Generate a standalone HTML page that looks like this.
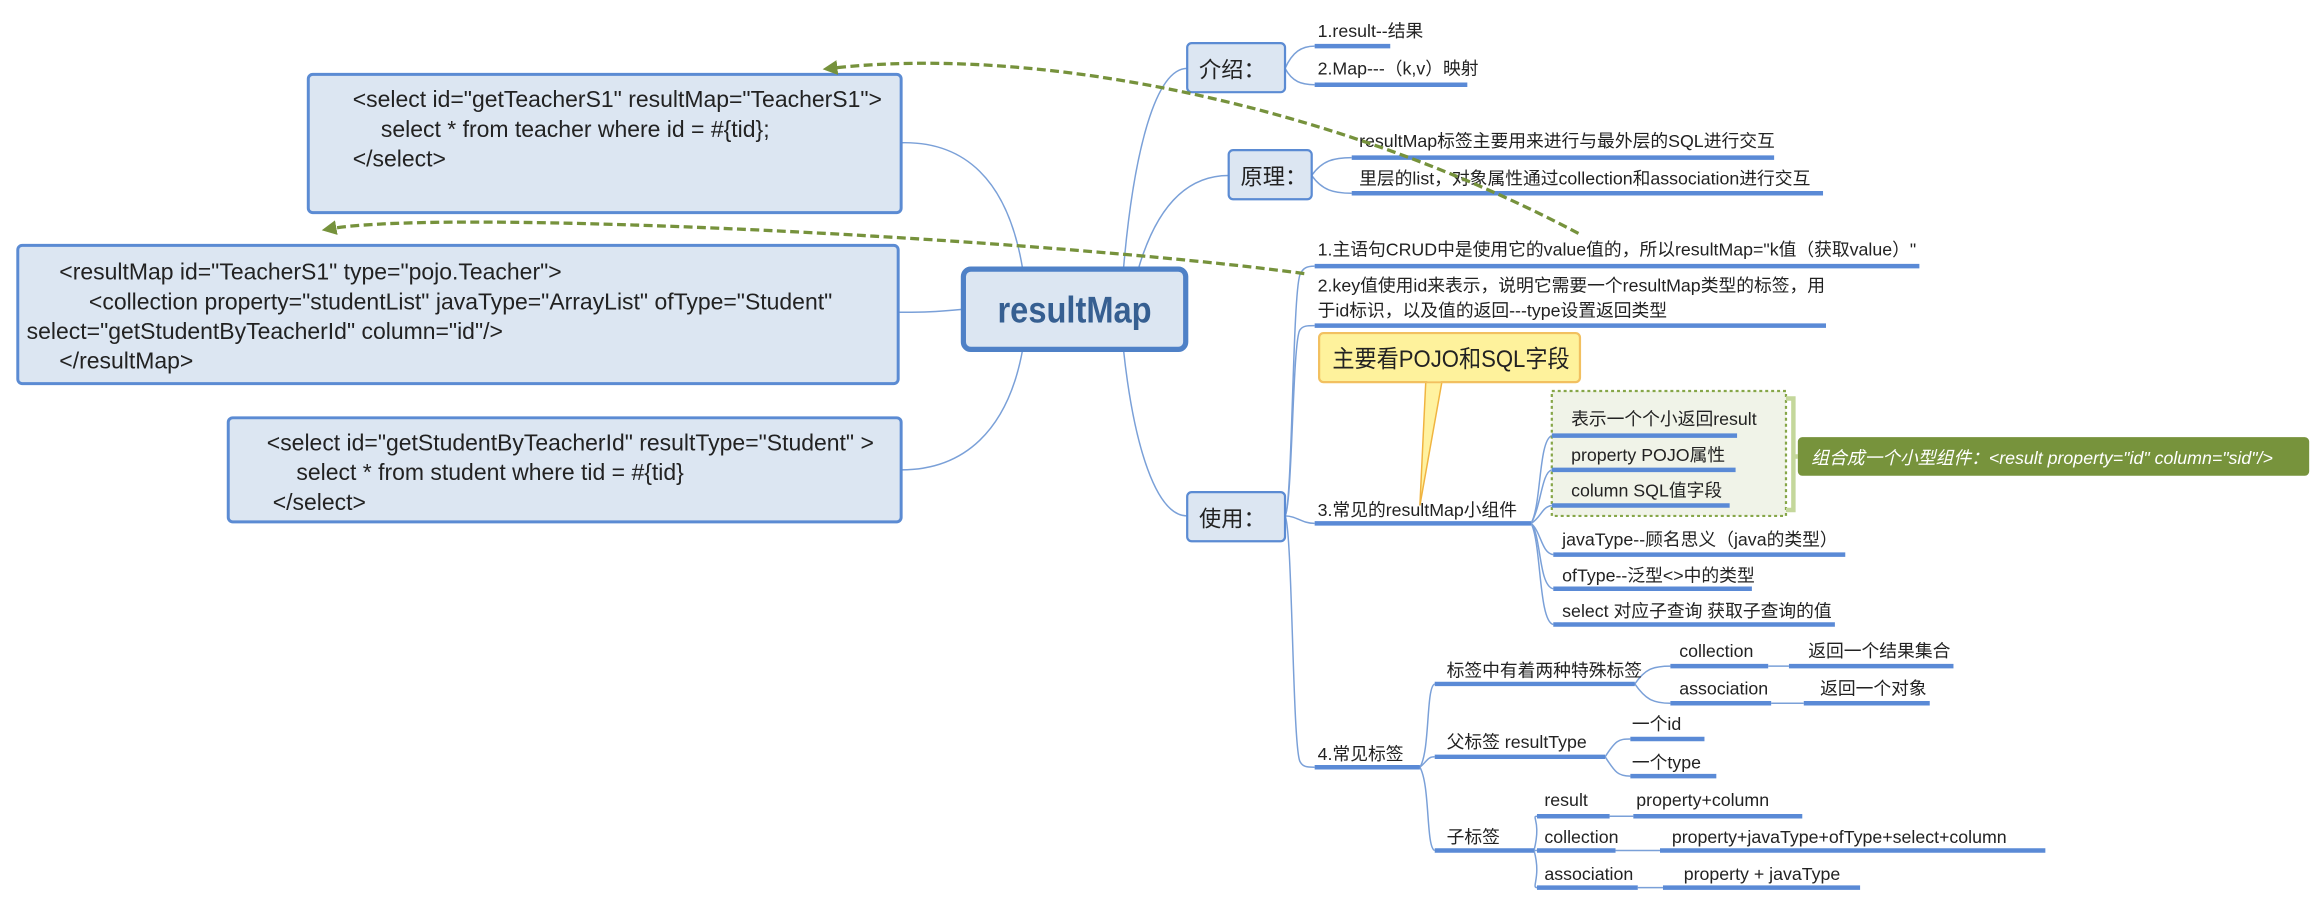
<!DOCTYPE html>
<html><head><meta charset="utf-8"><style>
html,body{margin:0;padding:0;background:#fff;width:2324px;height:904px;overflow:hidden}
svg text{font-family:"Liberation Sans","Noto Sans CJK SC",sans-serif;fill:#222}
</style></head><body>
<svg width="2324" height="904" viewBox="0 0 1568 608" preserveAspectRatio="none" xmlns="http://www.w3.org/2000/svg">
<defs>
<marker id="ah" markerWidth="10" markerHeight="10" refX="5" refY="5" orient="auto" markerUnits="userSpaceOnUse">
<path d="M0,0 L10,5 L0,10 z" fill="#76923c"/></marker>
</defs>
<g fill="none" stroke="#7aa0d8" stroke-width="1">
<path d="M690,181 C680,120 650,95 608,96"/>
<path d="M650,208 C630,210 620,210 606,210"/>
<path d="M690,235 C680,290 650,316 608,316"/>
<path d="M758,181 C765,100 780,46 801,46"/>
<path d="M768,181 C780,140 800,118 829,118"/>
<path d="M758,235 C765,300 780,347 801,347"/>
<path d="M867,46 C872,35 878,31 887,31"/><path d="M867,46 C872,55 878,57 887,57"/>
<path d="M885,118 C892,108 900,106 912,106"/><path d="M885,118 C892,128 900,130 912,130"/>
<path d="M867,347 C872,340 872,200 877,185 C879,180 882,179 887,179"/>
<path d="M867,347 C872,340 872,230 877,222 C879,219 882,219 887,219"/>
<path d="M867,347 C875,347 878,352 887,352"/>
<path d="M867,347 C872,355 872,500 877,512 C879,516 882,516 887,516"/>
<path d="M1033,352 C1040,340 1038,296 1047,293"/>
<path d="M1033,352 C1040,340 1040,318 1047,316"/>
<path d="M1033,352 C1040,348 1040,341 1047,340"/>
<path d="M1033,352 C1040,358 1040,372 1048,373"/>
<path d="M1033,352 C1040,360 1038,394 1048,396"/>
<path d="M1033,352 C1040,365 1038,418 1048,420"/>
<path d="M958,516 C965,505 962,462 968,460"/>
<path d="M958,516 C963,512 963,509 968,509"/>
<path d="M958,516 C965,528 962,570 968,572"/>
<path d="M1103,460 C1110,450 1115,448 1127,448"/><path d="M1103,460 C1110,470 1115,473 1127,473"/>
<path d="M1083,509 C1090,498 1092,497 1100,497"/><path d="M1083,509 C1090,520 1092,522 1100,522"/>
<path d="M1035,572 C1040,552 1033,549 1037,549"/><path d="M1035,572 L1037,572"/><path d="M1035,572 C1040,590 1033,597 1037,597"/>
<path d="M1086,549 L1102,549"/><path d="M1090,572 L1120,572"/><path d="M1105,597 L1122,597"/>
<path d="M1193,448 L1207,448"/><path d="M1195,473 L1217,473"/>
</g>
<g stroke="#5b8bd3" stroke-width="2" fill="#dce6f2">
<rect x="208" y="50" width="400" height="93" rx="3"/>
<rect x="12" y="165" width="594" height="93" rx="3"/>
<rect x="154" y="281" width="454" height="70" rx="3"/>
</g>
<g font-size="15.5">
<text x="238" y="72">&lt;select id="getTeacherS1" resultMap="TeacherS1"&gt;</text>
<text x="257" y="92">select * from teacher where id = #{tid};</text>
<text x="238" y="112">&lt;/select&gt;</text>
<text x="40" y="188">&lt;resultMap id="TeacherS1" type="pojo.Teacher"&gt;</text>
<text x="60" y="208">&lt;collection property="studentList" javaType="ArrayList" ofType="Student"</text>
<text x="18" y="228">select="getStudentByTeacherId" column="id"/&gt;</text>
<text x="40" y="248">&lt;/resultMap&gt;</text>
<text x="180" y="303">&lt;select id="getStudentByTeacherId" resultType="Student" &gt;</text>
<text x="200" y="323">select * from student where tid = #{tid}</text>
<text x="184" y="343">&lt;/select&gt;</text>
</g>
<rect x="650" y="181" width="150" height="54" rx="5" fill="#dce6f2" stroke="#4f81c7" stroke-width="3.5"/>
<text x="725" y="217" font-size="25" font-weight="bold" text-anchor="middle" textLength="104" lengthAdjust="spacingAndGlyphs" style="fill:#365f91">resultMap</text>
<g fill="#dce6f2" stroke="#5b8bd3" stroke-width="1.5">
<rect x="801" y="29" width="66" height="33" rx="3"/>
<rect x="829" y="101" width="56" height="33" rx="3"/>
<rect x="801" y="331" width="66" height="33" rx="3"/>
</g>
<g font-size="15"><text x="809" y="52">介绍：</text><text x="837" y="124">原理：</text><text x="809" y="354">使用：</text></g>
<rect x="1047" y="263" width="158" height="84" fill="#f0f3e8" stroke="#86a648" stroke-width="1.5" stroke-dasharray="2,2"/>
<path d="M1205,268 L1210,268 L1210,343 L1205,343 M1210,307 L1213,307" fill="none" stroke="#c4d79b" stroke-width="3"/>
<rect x="1213" y="294" width="345" height="26" rx="3" fill="#77933c"/>
<text x="1222" y="312" font-size="12" font-style="italic" style="fill:#fff">组合成一个小型组件：&lt;result property="id" column="sid"/&gt;</text>
<path d="M962,256 L958,340 L973,256 z" fill="#fff2a0" stroke="#f0b440" stroke-width="1"/>
<rect x="890" y="224" width="176" height="33" rx="3" fill="#fef29c" stroke="#f2c060" stroke-width="1.5"/>
<path d="M963,255 L972,255" stroke="#fef29c" stroke-width="3"/>
<text x="899" y="247" font-size="16" textLength="160" lengthAdjust="spacingAndGlyphs">主要看POJO和SQL字段</text>
<g stroke="#5a8ad6" stroke-width="3">
<path d="M887,31H938M887,57H990M912,106H1197M912,130H1230M887,179H1295M887,219H1232M887,352H1033"/>
<path d="M1047,293H1172M1047,316H1171M1047,340H1167M1048,373H1245M1048,396H1182M1048,420H1238"/>
<path d="M887,516H958M968,460H1103M1127,448H1193M1207,448H1318M1127,473H1195M1217,473H1302"/>
<path d="M968,509H1083M1100,497H1150M1100,522H1158M968,572H1035"/>
<path d="M1037,549H1086M1102,549H1216M1037,572H1090M1120,572H1380M1037,597H1105M1122,597H1255"/>
</g>
<g font-size="12">
<text x="889" y="25">1.result--结果</text>
<text x="889" y="50">2.Map---（k,v）映射</text>
<text x="917" y="99">resultMap标签主要用来进行与最外层的SQL进行交互</text>
<text x="917" y="124">里层的list，对象属性通过collection和association进行交互</text>
<text x="889" y="172">1.主语句CRUD中是使用它的value值的，所以resultMap="k值（获取value）"</text>
<text x="889" y="196">2.key值使用id来表示，说明它需要一个resultMap类型的标签，用</text>
<text x="889" y="213">于id标识，以及值的返回---type设置返回类型</text>
<text x="889" y="347">3.常见的resultMap小组件</text>
<text x="1060" y="286">表示一个个小返回result</text>
<text x="1060" y="310">property  POJO属性</text>
<text x="1060" y="334">column SQL值字段</text>
<text x="1054" y="367">javaType--顾名思义（java的类型）</text>
<text x="1054" y="391">ofType--泛型&lt;&gt;中的类型</text>
<text x="1054" y="415">select 对应子查询 获取子查询的值</text>
<text x="889" y="511">4.常见标签</text>
<text x="976" y="455">标签中有着两种特殊标签</text>
<text x="1133" y="442">collection</text>
<text x="1220" y="442">返回一个结果集合</text>
<text x="1133" y="467">association</text>
<text x="1228" y="467">返回一个对象</text>
<text x="976" y="503">父标签 resultType</text>
<text x="1101" y="491">一个id</text>
<text x="1101" y="517">一个type</text>
<text x="976" y="567">子标签</text>
<text x="1042" y="542">result</text>
<text x="1104" y="542">property+column</text>
<text x="1042" y="567">collection</text>
<text x="1128" y="567">property+javaType+ofType+select+column</text>
<text x="1042" y="592">association</text>
<text x="1136" y="592">property + javaType</text>
</g>
<g fill="none" stroke="#76923c" stroke-width="2.2" stroke-dasharray="6,3">
<path d="M1065,157 C900,70 700,30 560,46" marker-end="url(#ah)"/>
<path d="M880,184 C700,160 300,140 222,154" marker-end="url(#ah)"/>
</g>
</svg>
</body></html>
